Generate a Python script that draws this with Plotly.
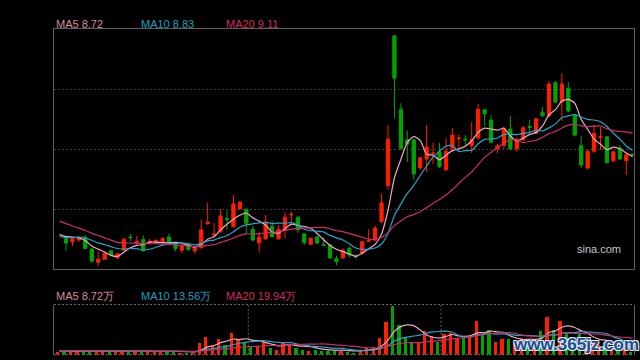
import plotly.graph_objects as go

# ---------------- data ----------------
open_ = [7.35, 7.30, 7.33, 7.37, 7.18, 6.96, 7.01, 7.15, 7.04, 7.16,
         7.38, 7.29, 7.34, 7.28, 7.29, 7.30, 7.38, 7.28, 7.16, 7.25,
         7.15, 7.20, 7.60, 7.41, 7.47, 7.69, 7.55, 7.85, 7.84, 7.51,
         7.28, 7.35, 7.56, 7.35, 7.50, 7.75, 7.71, 7.43, 7.26, 7.38,
         7.25, 7.25, 7.02, 7.03, 7.19, 7.06, 7.11, 7.31, 7.33, 7.64,
         8.24, 10.73, 9.51, 9.00, 9.00, 8.53, 8.68, 8.77, 8.80, 8.50,
         8.86, 9.02, 9.01, 8.90, 9.03, 9.50, 9.33, 8.85, 8.91, 9.18,
         8.85, 9.00, 9.22, 9.11, 9.46, 9.40, 9.95, 9.63, 9.86, 9.41,
         8.90, 8.53, 8.81, 9.04, 9.05, 8.65, 8.86, 8.65, 8.76]
high = [7.36, 7.38, 7.39, 7.41, 7.20, 7.14, 7.13, 7.16, 7.11, 7.37,
        7.43, 7.40, 7.41, 7.35, 7.35, 7.38, 7.44, 7.29, 7.28, 7.29,
        7.23, 7.67, 7.95, 7.61, 7.84, 7.82, 8.08, 7.98, 7.86, 7.56,
        7.47, 7.75, 7.65, 7.58, 7.79, 7.80, 7.73, 7.45, 7.37, 7.40,
        7.38, 7.26, 7.07, 7.19, 7.22, 7.10, 7.32, 7.51, 7.57, 8.10,
        9.25, 10.75, 9.61, 9.15, 9.01, 8.71, 9.25, 8.95, 8.95, 9.03,
        9.20, 9.08, 9.08, 9.30, 9.60, 9.51, 9.41, 8.93, 9.21, 9.40,
        9.03, 9.23, 9.33, 9.36, 9.55, 9.98, 9.98, 10.11, 9.96, 9.43,
        9.06, 8.83, 9.25, 9.21, 9.06, 8.81, 8.91, 8.76, 8.77]
low = [7.15, 7.23, 7.30, 7.18, 6.95, 6.90, 7.00, 7.06, 7.01, 7.15,
       7.31, 7.25, 7.14, 7.26, 7.26, 7.23, 7.26, 7.14, 7.11, 7.15,
       7.10, 7.19, 7.59, 7.39, 7.45, 7.50, 7.54, 7.84, 7.44, 7.31,
       7.12, 7.33, 7.37, 7.33, 7.36, 7.62, 7.45, 7.25, 7.25, 7.26,
       7.23, 7.02, 6.91, 7.02, 7.04, 7.02, 7.08, 7.30, 7.31, 7.61,
       8.16, 9.36, 8.83, 8.63, 8.33, 8.50, 8.46, 8.60, 8.53, 8.48,
       8.80, 8.86, 8.91, 8.78, 9.00, 9.23, 8.95, 8.78, 8.85, 8.83,
       8.80, 8.98, 9.11, 9.10, 9.38, 9.38, 9.61, 9.31, 9.46, 9.06,
       8.53, 8.51, 8.78, 8.83, 8.60, 8.63, 8.66, 8.41, 8.75]
close = [7.28, 7.35, 7.36, 7.19, 6.98, 7.01, 7.11, 7.08, 7.10, 7.34,
         7.37, 7.31, 7.15, 7.31, 7.32, 7.35, 7.28, 7.19, 7.22, 7.17,
         7.20, 7.50, 7.63, 7.43, 7.73, 7.67, 7.93, 7.96, 7.61, 7.33,
         7.38, 7.61, 7.39, 7.51, 7.71, 7.76, 7.50, 7.29, 7.36, 7.28,
         7.24, 7.03, 6.97, 7.16, 7.08, 7.05, 7.30, 7.32, 7.53, 7.95,
         9.01, 10.03, 8.86, 8.93, 8.43, 8.70, 8.88, 8.78, 8.55, 8.81,
         9.08, 9.03, 9.00, 9.00, 9.51, 9.43, 8.96, 8.90, 9.18, 8.85,
         9.01, 9.20, 9.21, 9.35, 9.40, 9.93, 9.63, 9.93, 9.48, 9.08,
         8.58, 8.81, 9.11, 9.05, 8.62, 8.80, 8.68, 8.75, 8.75]
# closes of the 20 sessions before the first drawn candle (feed the moving averages)
prev_close = [8.10, 8.12, 8.08, 7.98, 7.85, 7.82, 7.88, 7.86, 7.84, 7.50,
              7.42, 7.35, 7.30, 7.36, 7.32, 7.45, 7.38, 7.44, 7.40, 7.43]
# volume in 万 shares
volume = [4.4, 4.0, 4.0, 4.4, 4.8, 4.4, 4.0, 4.2, 4.0, 4.6,
          4.2, 3.8, 4.4, 4.0, 3.8, 4.2, 4.4, 3.6, 3.2, 2.8,
          3.0, 15.2, 22.4, 11.6, 20.0, 12.8, 27.2, 19.2, 16.4, 10.0,
          11.2, 16.0, 9.2, 6.4, 16.0, 12.4, 8.8, 6.8, 4.8, 6.8,
          4.8, 5.2, 4.8, 5.6, 3.6, 3.2, 6.4, 8.8, 10.4, 21.2,
          40.4, 59.6, 36.8, 20.8, 16.4, 14.4, 29.6, 23.2, 16.4, 25.6,
          26.4, 20.4, 21.6, 22.4, 41.6, 25.6, 30.8, 16.4, 19.6, 19.6,
          13.2, 21.2, 19.6, 18.0, 28.8, 46.0, 30.8, 41.2, 25.6, 19.6,
          26.4, 16.4, 16.4, 12.0, 15.6, 9.6, 7.6, 7.6, 3.6]
prev_volume = [5.6, 5.2, 6.0, 5.4, 5.0, 4.8, 5.6, 5.2, 4.6, 5.0,
               4.8, 5.2, 4.4, 4.6, 5.0, 4.2, 4.8, 4.4, 4.6, 4.4]
ma_periods = [5, 10, 20]
ma_names = ["MA5", "MA10", "MA20"]
legend_price = ["8.72", "8.83", "9.11"]
legend_vol = ["8.72万", "13.56万", "19.94万"]
month_breaks = [28.3, 58.25]

# ---------------- styling ----------------
RED = "#ff1e00"
GREEN = "#00a400"
MA_LINE = ["#f0a8c2", "#1ea7c9", "#cc2d66"]
MA_TEXT = ["#d9889f", "#1b9fc0", "#d02b62"]
FONT = "Arial, Liberation Sans, sans-serif"

n = len(close)
xs = list(range(n))
npre = len(prev_close)
all_close = prev_close + close
all_x = list(range(-npre, n))
all_vol = prev_volume + volume


def moving_avg(vals, p):
    out = []
    for i in range(len(vals)):
        if i + 1 < p:
            out.append(None)
        else:
            out.append(sum(vals[i + 1 - p:i + 1]) / p)
    return out


fig = go.Figure()
fig.add_trace(go.Candlestick(
    x=xs, open=open_, high=high, low=low, close=close,
    increasing=dict(line=dict(color=RED, width=1), fillcolor=RED),
    decreasing=dict(line=dict(color=GREEN, width=1), fillcolor=GREEN),
    whiskerwidth=0, showlegend=False, hoverinfo="skip",
    xaxis="x", yaxis="y"))

start = npre - 1  # first plotted MA point is the session just before the first candle
for p, col in zip(ma_periods, MA_LINE):
    m = moving_avg(all_close, p)
    fig.add_trace(go.Scatter(x=all_x[start:], y=m[start:], mode="lines",
                             line=dict(color=col, width=1.2, shape="spline", smoothing=0.6),
                             showlegend=False, hoverinfo="skip", xaxis="x", yaxis="y"))

# volume bars
vx = all_x[start:]
vv = all_vol[start:]
vcols = []
for i in vx:
    if i >= 0:
        vcols.append(RED if close[i] >= open_[i] else GREEN)
    else:
        vcols.append(RED if all_close[i + npre] >= all_close[i + npre - 1] else GREEN)
fig.add_trace(go.Bar(x=vx, y=vv, marker=dict(color=vcols, line=dict(width=0)),
                     width=0.5, offset=-0.55, showlegend=False, hoverinfo="skip",
                     xaxis="x2", yaxis="y2"))
for p, col in zip(ma_periods, MA_LINE):
    m = moving_avg(all_vol, p)
    fig.add_trace(go.Scatter(x=all_x[start:], y=m[start:], mode="lines",
                             line=dict(color=col, width=1.2, shape="spline", smoothing=0.6),
                             showlegend=False, hoverinfo="skip", xaxis="x2", yaxis="y2"))

W, H = 640, 360
L_, R_ = 54, 634
MT, MB = 29, 269
VT, VB = 304.5, 354.7
xdom = [L_ / W, R_ / W]
xr = [-1.863, 88.2]
pr = [6.847, 10.847]

fig.update_layout(
    width=W, height=H, margin=dict(l=0, r=0, t=0, b=0),
    paper_bgcolor="#000000", plot_bgcolor="#000000",
    boxgap=0.28, bargap=0,
    xaxis=dict(domain=xdom, range=xr, showgrid=False, zeroline=False,
               showticklabels=False, ticks="", showline=True, mirror=True,
               linecolor="#5e5e5e", linewidth=1, rangeslider=dict(visible=False),
               anchor="y"),
    yaxis=dict(domain=[1 - MB / H, 1 - MT / H], range=pr, tick0=pr[0], dtick=1,
               showgrid=True, gridcolor="#3c3c3c", griddash="2px,2px", gridwidth=1,
               zeroline=False, showticklabels=False, ticks="", showline=True,
               mirror=True, linecolor="#5e5e5e", linewidth=1, anchor="x"),
    xaxis2=dict(domain=xdom, range=xr, matches="x", showgrid=False, zeroline=False,
                showticklabels=False, ticks="", showline=False, anchor="y2"),
    yaxis2=dict(domain=[1 - VB / H, 1 - VT / H], range=[0, 60.2], showgrid=False,
                zeroline=False, showticklabels=False, ticks="", showline=True,
                mirror=True, linecolor="#5e5e5e", linewidth=1, anchor="x2"),
)

shapes = []
for yy in (VT, VB):
    shapes.append(dict(type="line", xref="paper", yref="paper",
                       x0=xdom[0], x1=xdom[1], y0=1 - yy / H, y1=1 - yy / H,
                       line=dict(color="#6a6a6a", width=1, dash="2px,2px")))
for xb in month_breaks:
    shapes.append(dict(type="line", xref="x2", yref="y2 domain", x0=xb, x1=xb, y0=0, y1=1,
                       line=dict(color="#6a6a6a", width=1, dash="2px,2px")))
fig.update_layout(shapes=shapes)

ann = []
lx = [54, 139, 224]
for i in range(3):
    ann.append(dict(xref="paper", yref="paper", x=lx[i] / W, y=1 - 24 / H,
                    xanchor="left", yanchor="middle", showarrow=False,
                    text=f"{ma_names[i]} {legend_price[i]}",
                    font=dict(family=FONT, size=11, color=MA_TEXT[i])))
    ann.append(dict(xref="paper", yref="paper", x=lx[i] / W, y=1 - 295.5 / H,
                    xanchor="left", yanchor="middle", showarrow=False,
                    text=f"{ma_names[i]} {legend_vol[i]}",
                    font=dict(family=FONT, size=11, color=MA_TEXT[i])))
ann.append(dict(xref="paper", yref="paper", x=623 / W, y=1 - 249 / H,
                xanchor="right", yanchor="middle", showarrow=False, text="sina.com",
                font=dict(family=FONT, size=11, color="#c8c8c8")))
ann.append(dict(xref="paper", yref="paper", x=576 / W, y=1 - 344 / H,
                xanchor="center", yanchor="middle", showarrow=False, text="www.365jz.com",
                font=dict(family="Liberation Sans, Arial", size=17, color="#1d4d8c",
                          weight="bold",
                          shadow="1px 1px 0 #dfe8f5, -1px -1px 0 #dfe8f5, 1px -1px 0 #dfe8f5, -1px 1px 0 #dfe8f5")))
fig.update_layout(annotations=ann)

fig.write_html("out.html", config={"displayModeBar": False},
               post_script="document.body.style.margin='0';document.body.style.padding='0';"
                           "document.body.style.overflow='hidden';document.body.style.background='#000';")
